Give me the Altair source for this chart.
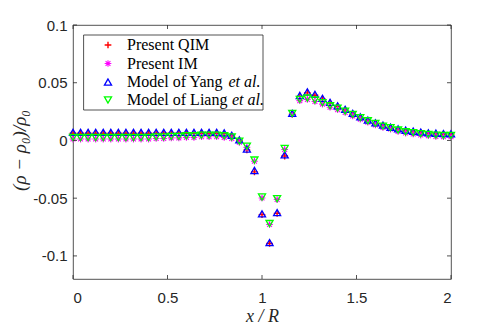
import altair as alt
import pandas as pd

# ---------------- data ----------------
x_vals = [0.00, 0.04, 0.08, 0.12, 0.16, 0.20, 0.24, 0.28, 0.32, 0.36,
          0.40, 0.44, 0.48, 0.52, 0.56, 0.60, 0.64, 0.68, 0.72, 0.76,
          0.80, 0.84, 0.88, 0.92, 0.96, 1.00, 1.04, 1.08, 1.12, 1.16,
          1.20, 1.24, 1.28, 1.32, 1.36, 1.40, 1.44, 1.48, 1.52, 1.56,
          1.60, 1.64, 1.68, 1.72, 1.76, 1.80, 1.84, 1.88, 1.92, 1.96, 2.00]

yang = [0.007, 0.007, 0.007, 0.007, 0.007, 0.007, 0.007, 0.007, 0.007, 0.007,
        0.007, 0.007, 0.007, 0.007, 0.007, 0.007, 0.007, 0.007, 0.007, 0.007,
        0.0065, 0.0045, 0.0005, -0.0075, -0.026, -0.0635, -0.0885, -0.0625, -0.0125, 0.0235,
        0.039, 0.042, 0.040, 0.0365, 0.033, 0.030, 0.027, 0.0235, 0.0205, 0.0176,
        0.0153, 0.0133, 0.0115, 0.010, 0.0089, 0.008, 0.0072, 0.0066, 0.0063, 0.006, 0.0058]

qim = [0.0063, 0.0063, 0.0063, 0.0063, 0.0063, 0.0063, 0.0063, 0.0063, 0.0063, 0.0063,
       0.0063, 0.0063, 0.0063, 0.0063, 0.0063, 0.0063, 0.0063, 0.0063, 0.0063, 0.0063,
       0.0058, 0.0038, -0.0003, -0.0082, -0.0272, -0.0642, -0.0892, -0.0632, -0.0135, 0.0228,
       0.0382, 0.0412, 0.0392, 0.0358, 0.0323, 0.0293, 0.0263, 0.0228, 0.0198, 0.0169,
       0.0146, 0.0126, 0.0108, 0.0094, 0.0082, 0.0073, 0.0065, 0.0059, 0.0056, 0.0053, 0.0051]

liang = [0.0025, 0.0025, 0.0025, 0.0025, 0.0025, 0.0025, 0.0025, 0.0025, 0.0025, 0.0025,
         0.0025, 0.003, 0.003, 0.0035, 0.0035, 0.004, 0.004, 0.0045, 0.0045, 0.0045,
         0.004, 0.003, -0.0006, -0.005, -0.017, -0.049, -0.072, -0.0505, -0.007, 0.0234,
         0.0355, 0.0367, 0.035, 0.0327, 0.030, 0.028, 0.0254, 0.0225, 0.0197, 0.017,
         0.0147, 0.0124, 0.011, 0.009, 0.0075, 0.0067, 0.0058, 0.0052, 0.0046, 0.0043, 0.0043]

im = [0.0012, 0.0012, 0.0012, 0.0012, 0.0012, 0.0012, 0.0012, 0.0012, 0.0012, 0.0012,
      0.0012, 0.0017, 0.0017, 0.0022, 0.0022, 0.0027, 0.0027, 0.0032, 0.0032, 0.0032,
      0.0027, 0.0018, -0.0016, -0.006, -0.018, -0.0498, -0.0728, -0.0512, -0.0078, 0.0225,
      0.0345, 0.0356, 0.0338, 0.0315, 0.0288, 0.0267, 0.0242, 0.0213, 0.0185, 0.0158,
      0.0135, 0.0113, 0.0099, 0.0079, 0.0064, 0.0056, 0.0047, 0.0041, 0.0035, 0.0032, 0.0032]

x_ticks = [0, 0.5, 1, 1.5, 2]
y_ticks = [-0.1, -0.05, 0, 0.05, 0.1]

legend_labels = ["Present QIM", "Present IM", "Model of Yang", "Model of Liang"]
legend_italic = ["", "", "et al.", "et al."]

# ---------------- styling ----------------
W, H = 378, 254
PLUS = "M-1,0L1,0M0,-1L0,1"
STAR = "M-1,0L1,0M0,-1L0,1M-0.72,-0.72L0.72,0.72M-0.72,0.72L0.72,-0.72"
series_style = [
    ("qim", PLUS, "#FF0000", 45, 1.4),
    ("im", STAR, "#FF00FF", 45, 1.1),
    ("yang", "triangle-up", "#0000FF", 50, 1.3),
    ("liang", "triangle-down", "#00FF00", 50, 1.3),
]
AX = "#262626"
SERIF = "Liberation Serif"
SANS = "Liberation Sans"

df = pd.DataFrame({"x": x_vals, "yang": yang, "qim": qim, "liang": liang, "im": im})

xs = alt.Scale(domain=[0, 2], nice=False, zero=False)
ys = alt.Scale(domain=[-0.12, 0.1], nice=False, zero=False)

x_axis = alt.Axis(values=x_ticks, format="~g", ticks=False, domain=False, grid=False,
                  labelFont=SANS, labelFontSize=15, labelColor=AX, labelPadding=11,
                  title="x / R", titleFont=SERIF, titleFontStyle="italic",
                  titleFontWeight="normal", titleFontSize=18, titleColor="#262626",
                  titleX=189, titleY=37, titleBaseline="middle", titleAlign="center")
y_axis = alt.Axis(values=y_ticks, ticks=False, domain=False, grid=False,
                  labelExpr="replace(format(datum.value, '~g'), '\u2212', '-')",
                  labelFont=SANS, labelFontSize=15, labelColor=AX, labelPadding=6,
                  title="(\u03c1 \u2212 \u03c1\u2080)/\u03c1\u2080", titleFont=SERIF,
                  titleFontStyle="italic", titleFontWeight="normal", titleFontSize=19,
                  titleColor="#262626", titleX=-54, titleY=125, titleAngle=270,
                  titleBaseline="middle", titleAlign="center")

layers = []
for field, shape, color, size, sw in series_style:
    layers.append(
        alt.Chart(df).mark_point(shape=shape, filled=False, color=color, size=size,
                                 strokeWidth=sw, opacity=1).encode(
            x=alt.X("x:Q", scale=xs, axis=x_axis),
            y=alt.Y(field + ":Q", scale=ys, axis=y_axis),
        )
    )

# inward ticks on all four sides
xt = pd.DataFrame({"t": x_ticks})
yt = pd.DataFrame({"t": y_ticks})
TL = 4
for y0, y1 in [(H, H - TL), (0, TL)]:
    layers.append(alt.Chart(xt).mark_rule(color=AX, strokeWidth=0.8).encode(
        x=alt.X("t:Q", scale=xs, axis=x_axis), y=alt.value(y0), y2=alt.value(y1)))
for x0, x1 in [(0, TL), (W, W - TL)]:
    layers.append(alt.Chart(yt).mark_rule(color=AX, strokeWidth=0.8).encode(
        y=alt.Y("t:Q", scale=ys, axis=y_axis), x=alt.value(x0), x2=alt.value(x1)))

# legend box
dummy = pd.DataFrame({"d": [0]})
layers.append(alt.Chart(dummy).mark_rect(fill="white", stroke=AX, strokeWidth=0.8).encode(
    x=alt.value(10.6), x2=alt.value(190), y=alt.value(10), y2=alt.value(85)))
rows_y = [20, 38.5, 57, 75]
italic_x = [0, 0, 155.5, 159]
for i, (field, shape, color, size, sw) in enumerate(series_style):
    layers.append(alt.Chart(dummy).mark_point(shape=shape, filled=False, color=color,
                                              size=size, strokeWidth=sw, opacity=1).encode(
        x=alt.value(35), y=alt.value(rows_y[i])))
    layers.append(alt.Chart(dummy).mark_text(text=legend_labels[i], font=SERIF, fontSize=16,
                                             align="left", baseline="middle", color="#000").encode(
        x=alt.value(54), y=alt.value(rows_y[i])))
    if legend_italic[i]:
        layers.append(alt.Chart(dummy).mark_text(text=legend_italic[i], font=SERIF, fontSize=16,
                                                 fontStyle="italic", align="left",
                                                 baseline="middle", color="#000").encode(
            x=alt.value(italic_x[i]), y=alt.value(rows_y[i])))

chart = alt.layer(*layers).properties(
    width=W, height=H,
    padding={"left": 65, "top": 17, "right": 39, "bottom": 45},
    autosize=alt.AutoSizeParams(type="none"),
).configure_view(stroke=AX, strokeWidth=0.8)

chart.save("out.html", embed_options={"renderer": "svg", "actions": False})
